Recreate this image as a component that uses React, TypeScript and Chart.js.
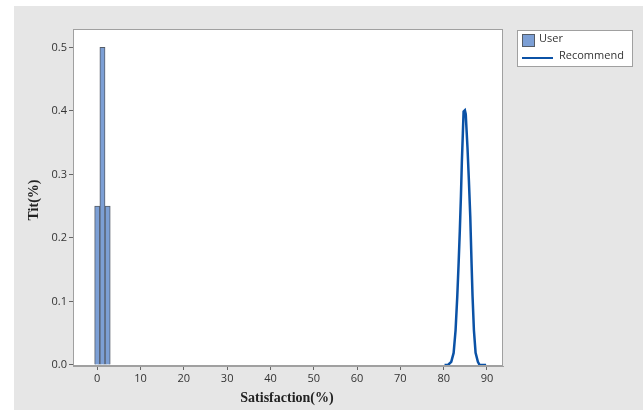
import React, { useEffect, useRef } from "react";
import { Chart, registerables } from "chart.js";

Chart.register(...registerables);

const userBins = [0, 1.2, 2.4];
const userValues = [0.25, 0.5, 0.25];

const recommendX = [80.2, 81.0, 81.75, 82.3, 82.75, 83.14, 83.45, 83.72, 83.98, 84.2, 84.43, 84.6, 84.9, 85.1, 85.2, 85.5, 85.82, 86.14, 86.44, 86.67, 86.98, 87.37, 87.9, 88.3, 89.8];
const recommendY = [0, 0, 0.005, 0.019, 0.055, 0.108, 0.16, 0.21, 0.265, 0.32, 0.365, 0.399, 0.401, 0.395, 0.381, 0.342, 0.291, 0.234, 0.16, 0.108, 0.055, 0.019, 0.005, 0, 0];

const xTicks = [0, 10, 20, 30, 40, 50, 60, 70, 80, 90];
const yTicks = [0, 0.1, 0.2, 0.3, 0.4, 0.5];

const xTitle = "Satisfaction(%)";
const yTitle = "Tit(%)";
const seriesNames = ["User", "Recommend"];

const BAR_FILL = "#7c9fd5";
const BAR_BORDER = "#555c66";
const LINE_COLOR = "#0b52a6";

export default function App() {
  const ref = useRef<HTMLCanvasElement | null>(null);

  useEffect(() => {
    if (!ref.current) return;
    const bgPlugin = {
      id: "bgPlugin",
      beforeDraw(chart: any) {
        const { ctx, chartArea } = chart;
        ctx.save();
        ctx.fillStyle = "#ffffff";
        ctx.fillRect(0, 0, chart.width, chart.height);
        ctx.fillStyle = "#e6e6e6";
        ctx.fillRect(14, 6, chart.width - 14, chart.height - 6);
        ctx.fillStyle = "#ffffff";
        ctx.fillRect(chartArea.left, chartArea.top, chartArea.right - chartArea.left, chartArea.bottom - chartArea.top);
        ctx.restore();
      },
      afterDraw(chart: any) {
        const { ctx, chartArea } = chart;
        ctx.save();
        ctx.strokeStyle = "#a0a0a0";
        ctx.lineWidth = 1;
        ctx.strokeRect(chartArea.left + 0.5, chartArea.top + 0.5, chartArea.right - chartArea.left - 1, chartArea.bottom - chartArea.top - 1);
        ctx.fillStyle = "#222222";
        ctx.font = "bold 14px 'Liberation Serif', 'DejaVu Serif', serif";
        ctx.textAlign = "center";
        ctx.textBaseline = "middle";
        ctx.fillText(xTitle, 287, 398);
        ctx.save();
        ctx.translate(34, 200);
        ctx.rotate(-Math.PI / 2);
        ctx.fillText(yTitle, 0, 0);
        ctx.restore();
        ctx.fillStyle = "#ffffff";
        ctx.fillRect(517, 30, 115, 36);
        ctx.strokeStyle = "#a0a0a0";
        ctx.strokeRect(517.5, 30.5, 115, 36);
        ctx.fillStyle = BAR_FILL;
        ctx.fillRect(522, 34, 13, 13);
        ctx.strokeStyle = BAR_BORDER;
        ctx.strokeRect(522.5, 34.5, 12, 12);
        ctx.strokeStyle = LINE_COLOR;
        ctx.lineWidth = 2;
        ctx.beginPath();
        ctx.moveTo(522, 58);
        ctx.lineTo(553, 58);
        ctx.stroke();
        ctx.fillStyle = "#333333";
        ctx.font = "11px 'Open Sans', 'DejaVu Sans', sans-serif";
        ctx.textAlign = "left";
        ctx.fillText(seriesNames[0], 539, 39);
        ctx.fillText(seriesNames[1], 559, 56);
        ctx.restore();
      },
    };

    const chart = new Chart(ref.current, {
      type: "line",
      data: {
        datasets: [
          {
            type: "bar",
            label: seriesNames[0],
            data: userBins.map((x, i) => ({ x, y: userValues[i] })),
            backgroundColor: BAR_FILL,
            borderColor: BAR_BORDER,
            borderWidth: 1,
            barPercentage: 1,
            categoryPercentage: 1,
          } as any,
          {
            type: "line",
            label: seriesNames[1],
            data: recommendX.map((x, i) => ({ x, y: recommendY[i] })),
            borderColor: LINE_COLOR,
            borderWidth: 2.5,
            pointRadius: 0,
            tension: 0,
            fill: false,
          } as any,
        ],
      },
      options: {
        animation: false,
        responsive: false,
        maintainAspectRatio: false,
        layout: { padding: { left: 0, top: 29, right: 140, bottom: 0 } },
        plugins: { legend: { display: false }, tooltip: { enabled: false } },
        scales: {
          x: {
            type: "linear",
            min: -5.6,
            max: 93.7,
            offset: false,
            afterBuildTicks: (s: any) => {
              s.ticks = xTicks.map((v) => ({ value: v }));
            },
            afterFit: (s: any) => {
              s.height = 44;
            },
            grid: { display: true, offset: false, drawOnChartArea: false, drawTicks: true, tickLength: 4, color: "#666666" },
            border: { display: true, color: "#a0a0a0" },
            ticks: {
              color: "#333333",
              padding: 2,
              maxRotation: 0,
              font: { family: "'Open Sans', 'DejaVu Sans', sans-serif", size: 11 },
            },
          },
          y: {
            type: "linear",
            min: -0.0016,
            max: 0.529,
            afterBuildTicks: (s: any) => {
              s.ticks = yTicks.map((v) => ({ value: v }));
            },
            afterFit: (s: any) => {
              s.width = 73;
            },
            grid: { display: true, offset: false, drawOnChartArea: false, drawTicks: true, tickLength: 4, color: "#666666" },
            border: { display: true, color: "#a0a0a0" },
            ticks: {
              color: "#333333",
              padding: 2,
              callback: (v: any) => Number(v).toFixed(1),
              font: { family: "'Open Sans', 'DejaVu Sans', sans-serif", size: 11 },
            },
          },
        },
      },
      plugins: [bgPlugin],
    });
    return () => chart.destroy();
  }, []);

  return (
    <div style={{ position: "absolute", left: 0, top: 0, width: 643, height: 410 }}>
      <canvas ref={ref} width={643} height={410} style={{ width: 643, height: 410, display: "block" }} />
    </div>
  );
}
